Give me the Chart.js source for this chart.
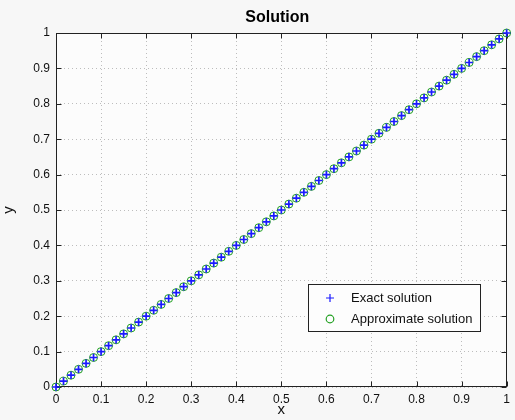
<!DOCTYPE html>
<html>
<head>
<meta charset="utf-8">
<script src="https://cdn.jsdelivr.net/npm/chart.js@4/dist/chart.umd.min.js"></script>
<style>
html,body{margin:0;padding:0;background:#f7f7f7;}
#wrap{width:515px;height:420px;position:relative;}
</style>
</head>
<body>
<div id="wrap"><canvas id="c" width="515" height="420"></canvas></div>
<script>
const chartTitle = "Solution";
const xAxisLabel = "x";
const yAxisLabel = "y";
const seriesNames = ["Exact solution", "Approximate solution"];
const xValues = [0, 0.0167, 0.0333, 0.05, 0.0667, 0.0833, 0.1, 0.1167, 0.1333, 0.15, 0.1667, 0.1833, 0.2, 0.2167, 0.2333, 0.25, 0.2667, 0.2833, 0.3, 0.3167, 0.3333, 0.35, 0.3667, 0.3833, 0.4, 0.4167, 0.4333, 0.45, 0.4667, 0.4833, 0.5, 0.5167, 0.5333, 0.55, 0.5667, 0.5833, 0.6, 0.6167, 0.6333, 0.65, 0.6667, 0.6833, 0.7, 0.7167, 0.7333, 0.75, 0.7667, 0.7833, 0.8, 0.8167, 0.8333, 0.85, 0.8667, 0.8833, 0.9, 0.9167, 0.9333, 0.95, 0.9667, 0.9833, 1];
const exactY = [0, 0.0167, 0.0333, 0.05, 0.0667, 0.0833, 0.1, 0.1167, 0.1333, 0.15, 0.1667, 0.1833, 0.2, 0.2167, 0.2333, 0.25, 0.2667, 0.2833, 0.3, 0.3167, 0.3333, 0.35, 0.3667, 0.3833, 0.4, 0.4167, 0.4333, 0.45, 0.4667, 0.4833, 0.5, 0.5167, 0.5333, 0.55, 0.5667, 0.5833, 0.6, 0.6167, 0.6333, 0.65, 0.6667, 0.6833, 0.7, 0.7167, 0.7333, 0.75, 0.7667, 0.7833, 0.8, 0.8167, 0.8333, 0.85, 0.8667, 0.8833, 0.9, 0.9167, 0.9333, 0.95, 0.9667, 0.9833, 1];
const approxY = [0, 0.0167, 0.0333, 0.05, 0.0667, 0.0833, 0.1, 0.1167, 0.1333, 0.15, 0.1667, 0.1833, 0.2, 0.2167, 0.2333, 0.25, 0.2667, 0.2833, 0.3, 0.3167, 0.3333, 0.35, 0.3667, 0.3833, 0.4, 0.4167, 0.4333, 0.45, 0.4667, 0.4833, 0.5, 0.5167, 0.5333, 0.55, 0.5667, 0.5833, 0.6, 0.6167, 0.6333, 0.65, 0.6667, 0.6833, 0.7, 0.7167, 0.7333, 0.75, 0.7667, 0.7833, 0.8, 0.8167, 0.8333, 0.85, 0.8667, 0.8833, 0.9, 0.9167, 0.9333, 0.95, 0.9667, 0.9833, 1];
const tickValues = [0, 0.1, 0.2, 0.3, 0.4, 0.5, 0.6, 0.7, 0.8, 0.9, 1];

const FONT = "'Liberation Sans', Arial, Helvetica, sans-serif";
const BLUE = "#1a1aff";
const GREEN = "#22a022";

const exactPts = xValues.map((x, i) => ({x: x, y: exactY[i]}));
const approxPts = xValues.map((x, i) => ({x: x, y: approxY[i]}));

const framePlugin = {
  id: 'frame',
  beforeDraw(chart) {
    const {ctx, chartArea: a} = chart;
    ctx.save();
    ctx.fillStyle = '#f7f7f7';
    ctx.fillRect(0, 0, chart.width, chart.height);
    ctx.fillStyle = '#fcfcfc';
    ctx.fillRect(a.left, a.top, a.right - a.left, a.bottom - a.top);
    ctx.fillStyle = '#000';
    ctx.font = 'bold 16px ' + FONT;
    ctx.textAlign = 'center';
    ctx.textBaseline = 'middle';
    ctx.fillText(chartTitle, (a.left + a.right) / 2 - 4, 18);
    ctx.restore();
  },
  beforeDatasetsDraw(chart) {
    const {ctx, chartArea: a, scales} = chart;
    ctx.save();
    ctx.strokeStyle = '#222';
    ctx.lineWidth = 1;
    ctx.setLineDash([]);
    const L = Math.round(a.left) + 0.5, R = Math.round(a.right) - 0.5;
    const T = Math.round(a.top) + 0.5, B = Math.round(a.bottom) - 0.5;
    ctx.strokeRect(L, T, R - L, B - T);
    const tl = 5;
    ctx.beginPath();
    tickValues.forEach(v => {
      const px = Math.round(scales.x.getPixelForValue(v)) + 0.5;
      ctx.moveTo(px, B); ctx.lineTo(px, B - tl);
      ctx.moveTo(px, T); ctx.lineTo(px, T + tl);
      const py = Math.round(scales.y.getPixelForValue(v)) + 0.5;
      ctx.moveTo(L, py); ctx.lineTo(L + tl, py);
      ctx.moveTo(R, py); ctx.lineTo(R - tl, py);
    });
    ctx.stroke();
    ctx.restore();
  },
  afterDraw(chart) {
    const {ctx} = chart;
    ctx.save();
    const bx = 308.5, by = 284.5, bw = 172, bh = 47;
    ctx.fillStyle = '#fdfdfd';
    ctx.fillRect(bx, by, bw, bh);
    ctx.strokeStyle = '#222';
    ctx.lineWidth = 1;
    ctx.strokeRect(bx, by, bw, bh);
    const mx = 330;
    ctx.strokeStyle = BLUE;
    ctx.lineWidth = 1.2;
    ctx.beginPath();
    ctx.moveTo(mx - 4, 298); ctx.lineTo(mx + 4, 298);
    ctx.moveTo(mx, 294); ctx.lineTo(mx, 302);
    ctx.stroke();
    ctx.strokeStyle = GREEN;
    ctx.beginPath();
    ctx.arc(mx, 319, 3.8, 0, Math.PI * 2);
    ctx.stroke();
    ctx.fillStyle = '#111';
    ctx.font = '13px ' + FONT;
    ctx.textAlign = 'left';
    ctx.textBaseline = 'middle';
    ctx.fillText(seriesNames[0], 351, 298);
    ctx.fillText(seriesNames[1], 351, 319);
    ctx.restore();
  }
};

new Chart(document.getElementById('c'), {
  type: 'scatter',
  data: {
    datasets: [
      {
        label: seriesNames[0],
        data: exactPts,
        pointStyle: 'cross',
        pointRadius: 3.8,
        borderColor: BLUE,
        backgroundColor: BLUE,
        pointBorderWidth: 1.7,
        showLine: false,
        clip: false,
        order: 0
      },
      {
        label: seriesNames[1],
        data: approxPts,
        pointStyle: 'circle',
        pointRadius: 4,
        borderColor: GREEN,
        backgroundColor: 'rgba(0,0,0,0)',
        pointBorderWidth: 1,
        showLine: false,
        clip: false,
        order: 1
      }
    ]
  },
  options: {
    responsive: false,
    animation: false,
    layout: {padding: {top: 33, right: 6, left: 0, bottom: 0}},
    plugins: {
      legend: {display: false},
      title: {display: false},
      tooltip: {enabled: false}
    },
    scales: {
      x: {
        type: 'linear',
        min: 0, max: 1,
        afterFit(s) { s.height = 33; },
        afterBuildTicks(s) { s.ticks = tickValues.map(v => ({value: v})); },
        grid: {color: '#bdbdbd', lineWidth: 1, drawTicks: false},
        border: {display: false, dash: [1, 3]},
        ticks: {
          color: '#111', padding: 5,
          font: {family: FONT, size: 12},
          maxRotation: 0,
          callback: v => String(Math.round(v * 10) / 10)
        },
        title: {display: true, text: xAxisLabel, color: '#111',
          font: {family: FONT, size: 15}, padding: {top: 0, bottom: 1}}
      },
      y: {
        type: 'linear',
        min: 0, max: 1,
        afterFit(s) { s.width = 56; },
        afterBuildTicks(s) { s.ticks = tickValues.map(v => ({value: v})); },
        grid: {color: '#bdbdbd', lineWidth: 1, drawTicks: false},
        border: {display: false, dash: [1, 3]},
        ticks: {
          color: '#111', padding: 6,
          font: {family: FONT, size: 12},
          callback: v => String(Math.round(v * 10) / 10)
        },
        title: {display: true, text: yAxisLabel, color: '#111',
          font: {family: FONT, size: 15}, padding: {top: 0, bottom: 10}}
      }
    }
  },
  plugins: [framePlugin]
});
</script>
</body>
</html>
